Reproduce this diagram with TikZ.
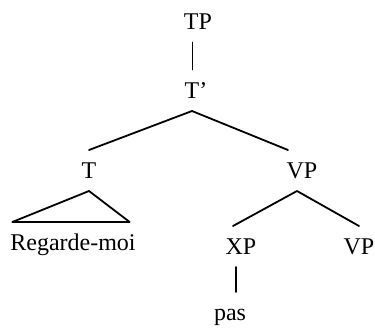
\documentclass[tikz,border=0pt]{standalone}
\usepackage{fontspec}
\setmainfont{Liberation Serif}
\begin{document}
\begin{tikzpicture}[x=1pt,y=-1pt,font=\fontsize{24}{28}\selectfont,line join=round,line cap=round,
	cat/.style={anchor=base,inner sep=0pt,text height=15pt,text depth=0pt,outer xsep=0pt,outer ysep=13pt},
	branch/.style={line width=1.8pt}]
	\useasboundingbox (0,0) rectangle (375,327);
	\node[cat] (tp) at (198,29) {TP};
	\node[cat] (tbar) at (196,98) {T'};
	\node[cat] (t) at (89,178) {T};
	\node[cat] (vp) at (302,178) {VP};
	\node[cat] (rm) at (73,250) {Regarde-moi};
	\node[cat] (xp) at (241,254) {XP};
	\node[cat] (vpb) at (359,254) {VP};
	\node[cat] (pas) at (230,320) {pas};
	\draw[line width=0.9pt] ([xshift=-6pt]tp.south)--([xshift=-4pt]tbar.north);
	\draw[branch] ([xshift=-4pt]tbar.south)--(t.north) ([xshift=-4pt]tbar.south)--([xshift=-14pt]vp.north);
	\draw[branch] ([xshift=2pt]rm.north west)--(t.south)--([xshift=-6pt]rm.north east)--cycle;
	\draw[branch] ([xshift=-5pt]vp.south)--([xshift=-8pt]xp.north) ([xshift=-5pt]vp.south)--(vpb.north);
	\draw[branch] ([xshift=-5pt]xp.south)--([xshift=6pt]pas.north);
\end{tikzpicture}
\end{document}
